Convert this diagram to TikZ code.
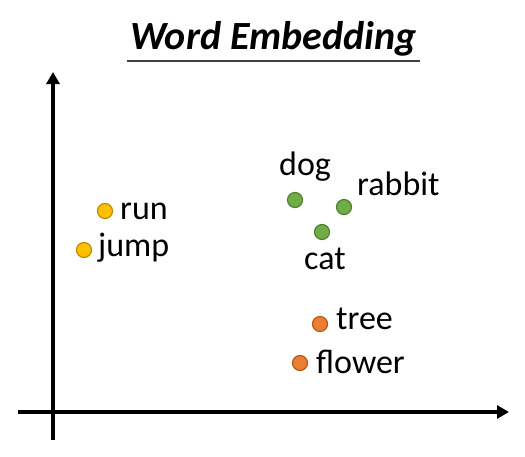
\documentclass[tikz,border=0pt]{standalone}
\usepackage{fontspec}
\setmainfont{Carlito}
\usetikzlibrary{arrows.meta}
\definecolor{yel}{HTML}{FFC000}
\definecolor{yelb}{HTML}{BC8C00}
\definecolor{grn}{HTML}{70AD47}
\definecolor{grnb}{HTML}{507E32}
\definecolor{org}{HTML}{ED7D31}
\definecolor{orgb}{HTML}{AE5A21}
\tikzset{
  axis/.style={line width=4pt,-{Triangle[width=13pt,length=12pt]}},
  dot/.style={circle,inner sep=0pt,minimum size=15pt,line width=1.2pt},
  ydot/.style={dot,fill=yel,draw=yelb},
  gdot/.style={dot,fill=grn,draw=grnb},
  odot/.style={dot,fill=org,draw=orgb},
  lbl/.style={anchor=base west,inner sep=0pt,font=\fontsize{34}{40}\selectfont},
}
\begin{document}
\begin{tikzpicture}[x=1pt,y=-1pt]
\useasboundingbox (0,0) rectangle (525,456);
% title
\node[anchor=base west,inner sep=0pt,font=\fontsize{40}{48}\selectfont\bfseries\itshape] (title) at (130,49) {Word Embedding};
\coordinate (ul1) at (127,61);
\coordinate (ul2) at (420,61);
\draw[line width=2.5pt,black!75] (ul1) -- (ul2);
% axes
\coordinate (ys) at (53,440);
\coordinate (ye) at (53,72);
\coordinate (xs) at (18,412);
\coordinate (xe) at (509,412);
\draw[axis] (ys) -- (ye);
\draw[axis] (xs) -- (xe);
% dots
\node[ydot] (drun) at (105,211) {};
\node[ydot] (djump) at (84,250) {};
\node[gdot] (ddog) at (295,200) {};
\node[gdot] (drabbit) at (344,207) {};
\node[gdot] (dcat) at (322,232) {};
\node[odot] (dtree) at (320,324) {};
\node[odot] (dflower) at (300,363) {};
% labels
\node[lbl] (lrun) at (120,219) {run};
\node[lbl] (ljump) at (98,256) {jump};
\node[lbl] (ldog) at (279,175) {dog};
\node[lbl] (lrabbit) at (357,195) {rabbit};
\node[lbl] (lcat) at (304,269) {cat};
\node[lbl] (ltree) at (336,329) {tree};
\node[lbl] (lflower) at (316,373) {flower};
\end{tikzpicture}
\end{document}
